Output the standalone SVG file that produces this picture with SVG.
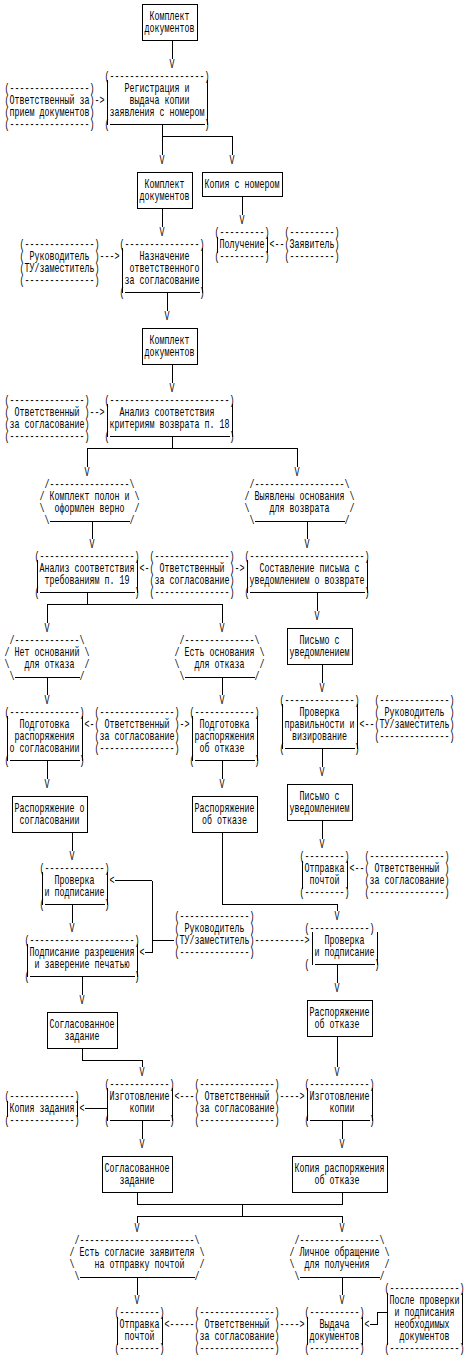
<svg xmlns="http://www.w3.org/2000/svg" width="469" height="1358" viewBox="0 0 469 1358">
<style>
text{font-family:"Liberation Mono","DejaVu Sans Mono",monospace;font-size:12px;fill:#000}
.m{text-anchor:middle}
.ln{fill:none;stroke:#000;stroke-width:1;shape-rendering:crispEdges}
.b{fill:#fff;stroke:#000;stroke-width:1;shape-rendering:crispEdges}
</style>
<rect width="469" height="1358" fill="#fff"/>
<g id="connectors">
<path class="ln" d="M172 40.5V58.5M162 124.5V154.5M162 136.5H232V154.5M162 208.5V226.5M242 196.5V214.5M167 292.5V310.5M172 364.5V382.5M172 436.5V448.5M87 466.5V448.5H297V466.5M92 521.5V538.5M307 521.5V538.5M87 592.5V604.5M47 622.5V604.5H222V622.5M317 592.5V610.5M322 664.5V682.5M47 677.5V694.5M222 677.5V694.5M322 748.5V766.5M47 760.5V778.5M222 760.5V778.5M322 820.5V838.5M72 832.5V850.5M222 832.5V904.5H337V910.5M72 904.5V922.5M174 940.5H152M152 880.5V952.5M114.5 880.5H152M144.5 952.5H152M337 964.5V982.5M82 976.5V994.5M337 1036.5V1066.5M82 1048.5V1060.5H142V1066.5M84.5 1108.5H107M142 1120.5V1138.5M342 1120.5V1138.5M137 1192.5V1204.5M342 1192.5V1204.5M137 1204.5H342M242 1204.5V1216.5M137 1222.5V1216.5H342V1222.5M137 1277.5V1294.5M342 1277.5V1294.5M369.5 1324.5H377V1312.5H387"/>
<g transform="scale(0.694444 1)">
<text class="m" x="247.68" y="68.5">V</text>
<text class="m" x="233.28" y="164.5">V</text>
<text class="m" x="334.08" y="164.5">V</text>
<text class="m" x="348.48" y="224.5">V</text>
<text class="m" x="233.28" y="236.5">V</text>
<text class="m" x="240.48" y="320.5">V</text>
<text class="m" x="247.68" y="392.5">V</text>
<text class="m" x="125.28" y="476.5">V</text>
<text class="m" x="427.68" y="476.5">V</text>
<text class="m" x="132.48" y="548.5">V</text>
<text class="m" x="442.08" y="548.5">V</text>
<text class="m" x="456.48" y="620.5">V</text>
<text class="m" x="67.68" y="632.5">V</text>
<text class="m" x="319.68" y="632.5">V</text>
<text class="m" x="463.68" y="692.5">V</text>
<text class="m" x="67.68" y="704.5">V</text>
<text class="m" x="319.68" y="704.5">V</text>
<text class="m" x="463.68" y="776.5">V</text>
<text class="m" x="67.68" y="788.5">V</text>
<text class="m" x="319.68" y="788.5">V</text>
<text class="m" x="463.68" y="848.5">V</text>
<text class="m" x="103.68" y="860.5">V</text>
<text class="m" x="485.28" y="920.5">V</text>
<text class="m" x="103.68" y="932.5">V</text>
<text class="m" x="485.28" y="992.5">V</text>
<text class="m" x="118.08" y="1004.5">V</text>
<text class="m" x="485.28" y="1076.5">V</text>
<text class="m" x="204.48" y="1076.5">V</text>
<text class="m" x="204.48" y="1148.5">V</text>
<text class="m" x="492.48" y="1148.5">V</text>
<text class="m" x="197.28" y="1232.5">V</text>
<text class="m" x="492.48" y="1232.5">V</text>
<text class="m" x="197.28" y="1304.5">V</text>
<text class="m" x="492.48" y="1304.5">V</text>
<text x="136.08" y="104.5">-&gt;</text>
<text x="388.08" y="248.5">&lt;--</text>
<text x="143.28" y="260.5">---&gt;</text>
<text x="128.88" y="416.5">--&gt;</text>
<text x="200.88" y="572.5">&lt;-</text>
<text x="337.68" y="572.5">-&gt;</text>
<text x="517.68" y="728.5">&lt;--</text>
<text x="121.68" y="728.5">&lt;-</text>
<text x="258.48" y="728.5">-&gt;</text>
<text x="503.28" y="872.5">&lt;--</text>
<text x="157.68" y="884.5">&lt;</text>
<text x="200.88" y="956.5">&lt;</text>
<text x="366.48" y="944.5">----------&gt;</text>
<text x="114.48" y="1112.5">&lt;</text>
<text x="251.28" y="1100.5">&lt;---</text>
<text x="402.48" y="1100.5">----&gt;</text>
<text x="236.88" y="1328.5">&lt;-----</text>
<text x="402.48" y="1328.5">----&gt;</text>
<text x="524.88" y="1328.5">&lt;</text>
</g>
</g>
<g id="n1">
<rect class="b" x="142" y="4.5" width="55" height="36"/>
<g transform="scale(0.694444 1)">
<text class="m" x="244.08" y="20.5">Комплект</text>
<text class="m" x="244.08" y="32.5">документов</text>
</g>
</g>
<g id="n2">
<path class="ln" d="M107 79.5V124.5M207 79.5V124.5M109.5 124.5H204.5"/>
<g transform="scale(0.694444 1)">
<text x="150.48" y="80.5">(-------------------)</text>
<text class="m" x="226.08" y="92.5">Регистрация и</text>
<text class="m" x="229.68" y="104.5">выдача копии</text>
<text class="m" x="226.08" y="116.5">заявления с номером</text>
<text x="150.48" y="128.5">(</text>
<text x="294.48" y="128.5">)</text>
</g>
</g>
<g id="n2a">
<g transform="scale(0.694444 1)">
<text x="6.48" y="92.5">(----------------)</text>
<text x="6.48" y="104.5">(Ответственный за)</text>
<text x="6.48" y="116.5">(прием документов)</text>
<text x="6.48" y="128.5">(----------------)</text>
</g>
</g>
<g id="n3">
<rect class="b" x="137" y="172.5" width="55" height="36"/>
<g transform="scale(0.694444 1)">
<text class="m" x="236.88" y="188.5">Комплект</text>
<text class="m" x="236.88" y="200.5">документов</text>
</g>
</g>
<g id="n4">
<rect class="b" x="202" y="172.5" width="80" height="24"/>
<g transform="scale(0.694444 1)">
<text class="m" x="348.48" y="188.5">Копия с номером</text>
</g>
</g>
<g id="n5">
<path class="ln" d="M217 236.5V252.5M267 236.5V252.5"/>
<g transform="scale(0.694444 1)">
<text x="308.88" y="236.5">(---------)</text>
<text class="m" x="348.48" y="248.5">Получение</text>
<text x="308.88" y="260.5">(---------)</text>
</g>
</g>
<g id="n6">
<g transform="scale(0.694444 1)">
<text x="409.68" y="236.5">(---------)</text>
<text x="409.68" y="248.5">(Заявитель)</text>
<text x="409.68" y="260.5">(---------)</text>
</g>
</g>
<g id="n7">
<g transform="scale(0.694444 1)">
<text x="28.08" y="248.5">(--------------)</text>
<text x="28.08" y="260.5">( Руководитель )</text>
<text x="28.08" y="272.5">(ТУ/заместитель)</text>
<text x="28.08" y="284.5">(--------------)</text>
</g>
</g>
<g id="n8">
<path class="ln" d="M122 247.5V292.5M202 247.5V292.5M124.5 292.5H199.5"/>
<g transform="scale(0.694444 1)">
<text x="172.08" y="248.5">(---------------)</text>
<text class="m" x="236.88" y="260.5">Назначение</text>
<text class="m" x="236.88" y="272.5">ответственного</text>
<text class="m" x="233.28" y="284.5">за согласование</text>
<text x="172.08" y="296.5">(</text>
<text x="287.28" y="296.5">)</text>
</g>
</g>
<g id="n9">
<rect class="b" x="142" y="328.5" width="55" height="36"/>
<g transform="scale(0.694444 1)">
<text class="m" x="244.08" y="344.5">Комплект</text>
<text class="m" x="244.08" y="356.5">документов</text>
</g>
</g>
<g id="n10">
<path class="ln" d="M107 403.5V436.5M232 403.5V436.5M109.5 436.5H229.5"/>
<g transform="scale(0.694444 1)">
<text x="150.48" y="404.5">(------------------------)</text>
<text class="m" x="240.48" y="416.5">Анализ соответствия</text>
<text class="m" x="244.08" y="428.5">критериям возврата п. 18</text>
<text x="150.48" y="440.5">(</text>
<text x="330.48" y="440.5">)</text>
</g>
</g>
<g id="n11">
<g transform="scale(0.694444 1)">
<text x="6.48" y="404.5">(---------------)</text>
<text x="6.48" y="416.5">( Ответственный )</text>
<text x="6.48" y="428.5">(за согласование)</text>
<text x="6.48" y="440.5">(---------------)</text>
</g>
</g>
<g id="n12">
<path class="ln" d="M49.5 521.5H129.5"/>
<g transform="scale(0.694444 1)">
<text x="64.08" y="488.5">/----------------\</text>
<text x="56.88" y="500.5">/</text>
<text class="m" x="128.88" y="500.5">Комплект полон и</text>
<text x="193.68" y="500.5">\</text>
<text x="56.88" y="512.5">\</text>
<text class="m" x="128.88" y="512.5">оформлен верно</text>
<text x="193.68" y="512.5">/</text>
<text x="64.08" y="524.5">\</text>
<text x="186.48" y="524.5">/</text>
</g>
</g>
<g id="n13">
<path class="ln" d="M254.5 521.5H344.5"/>
<g transform="scale(0.694444 1)">
<text x="359.28" y="488.5">/------------------\</text>
<text x="352.08" y="500.5">/</text>
<text class="m" x="431.28" y="500.5">Выявлены основания</text>
<text x="503.28" y="500.5">\</text>
<text x="352.08" y="512.5">\</text>
<text class="m" x="431.28" y="512.5">для возврата</text>
<text x="503.28" y="512.5">/</text>
<text x="359.28" y="524.5">\</text>
<text x="496.08" y="524.5">/</text>
</g>
</g>
<g id="n14">
<path class="ln" d="M37 559.5V592.5M137 559.5V592.5M39.5 592.5H134.5"/>
<g transform="scale(0.694444 1)">
<text x="49.68" y="560.5">(-------------------)</text>
<text class="m" x="125.28" y="572.5">Анализ соответствия</text>
<text class="m" x="125.28" y="584.5">требованиям п. 19</text>
<text x="49.68" y="596.5">(</text>
<text x="193.68" y="596.5">)</text>
</g>
</g>
<g id="n15">
<g transform="scale(0.694444 1)">
<text x="215.28" y="560.5">(---------------)</text>
<text x="215.28" y="572.5">( Ответственный )</text>
<text x="215.28" y="584.5">(за согласование)</text>
<text x="215.28" y="596.5">(---------------)</text>
</g>
</g>
<g id="n16">
<path class="ln" d="M247 559.5V592.5M367 559.5V592.5M249.5 592.5H364.5"/>
<g transform="scale(0.694444 1)">
<text x="352.08" y="560.5">(-----------------------)</text>
<text class="m" x="445.68" y="572.5">Составление письма с</text>
<text class="m" x="442.08" y="584.5">уведомлением о возврате</text>
<text x="352.08" y="596.5">(</text>
<text x="524.88" y="596.5">)</text>
</g>
</g>
<g id="n17">
<rect class="b" x="287" y="628.5" width="65" height="36"/>
<g transform="scale(0.694444 1)">
<text class="m" x="460.08" y="644.5">Письмо с</text>
<text class="m" x="460.08" y="656.5">уведомлением</text>
</g>
</g>
<g id="n18">
<path class="ln" d="M14.5 677.5H79.5"/>
<g transform="scale(0.694444 1)">
<text x="13.68" y="644.5">/-------------\</text>
<text x="6.48" y="656.5">/</text>
<text class="m" x="67.68" y="656.5">Нет оснований</text>
<text x="121.68" y="656.5">\</text>
<text x="6.48" y="668.5">\</text>
<text class="m" x="71.28" y="668.5">для отказа</text>
<text x="121.68" y="668.5">/</text>
<text x="13.68" y="680.5">\</text>
<text x="114.48" y="680.5">/</text>
</g>
</g>
<g id="n19">
<path class="ln" d="M184.5 677.5H254.5"/>
<g transform="scale(0.694444 1)">
<text x="258.48" y="644.5">/--------------\</text>
<text x="251.28" y="656.5">/</text>
<text class="m" x="316.08" y="656.5">Есть основания</text>
<text x="373.68" y="656.5">\</text>
<text x="251.28" y="668.5">\</text>
<text class="m" x="316.08" y="668.5">для отказа</text>
<text x="373.68" y="668.5">/</text>
<text x="258.48" y="680.5">\</text>
<text x="366.48" y="680.5">/</text>
</g>
</g>
<g id="n20">
<path class="ln" d="M7 715.5V760.5M82 715.5V760.5M9.5 760.5H79.5"/>
<g transform="scale(0.694444 1)">
<text x="6.48" y="716.5">(--------------)</text>
<text class="m" x="64.08" y="728.5">Подготовка</text>
<text class="m" x="64.08" y="740.5">распоряжения</text>
<text class="m" x="64.08" y="752.5">о согласовании</text>
<text x="6.48" y="764.5">(</text>
<text x="114.48" y="764.5">)</text>
</g>
</g>
<g id="n21">
<g transform="scale(0.694444 1)">
<text x="136.08" y="716.5">(---------------)</text>
<text x="136.08" y="728.5">( Ответственный )</text>
<text x="136.08" y="740.5">(за согласование)</text>
<text x="136.08" y="752.5">(---------------)</text>
</g>
</g>
<g id="n22">
<path class="ln" d="M192 715.5V760.5M257 715.5V760.5M194.5 760.5H254.5"/>
<g transform="scale(0.694444 1)">
<text x="272.88" y="716.5">(------------)</text>
<text class="m" x="323.28" y="728.5">Подготовка</text>
<text class="m" x="323.28" y="740.5">распоряжения</text>
<text class="m" x="319.68" y="752.5">об отказе</text>
<text x="272.88" y="764.5">(</text>
<text x="366.48" y="764.5">)</text>
</g>
</g>
<g id="n23">
<path class="ln" d="M282 703.5V748.5M357 703.5V748.5M284.5 748.5H354.5"/>
<g transform="scale(0.694444 1)">
<text x="402.48" y="704.5">(--------------)</text>
<text class="m" x="460.08" y="716.5">Проверка</text>
<text class="m" x="460.08" y="728.5">правильности и</text>
<text class="m" x="460.08" y="740.5">визирование</text>
<text x="402.48" y="752.5">(</text>
<text x="510.48" y="752.5">)</text>
</g>
</g>
<g id="n24">
<g transform="scale(0.694444 1)">
<text x="539.28" y="704.5">(--------------)</text>
<text x="539.28" y="716.5">( Руководитель )</text>
<text x="539.28" y="728.5">(ТУ/заместитель)</text>
<text x="539.28" y="740.5">(--------------)</text>
</g>
</g>
<g id="n25">
<rect class="b" x="12" y="796.5" width="75" height="36"/>
<g transform="scale(0.694444 1)">
<text class="m" x="71.28" y="812.5">Распоряжение о</text>
<text class="m" x="71.28" y="824.5">согласовании</text>
</g>
</g>
<g id="n26">
<rect class="b" x="192" y="796.5" width="65" height="36"/>
<g transform="scale(0.694444 1)">
<text class="m" x="323.28" y="812.5">Распоряжение</text>
<text class="m" x="323.28" y="824.5">об отказе</text>
</g>
</g>
<g id="n27">
<rect class="b" x="287" y="784.5" width="65" height="36"/>
<g transform="scale(0.694444 1)">
<text class="m" x="460.08" y="800.5">Письмо с</text>
<text class="m" x="460.08" y="812.5">уведомлением</text>
</g>
</g>
<g id="n28">
<path class="ln" d="M302 860.5V888.5M347 860.5V888.5"/>
<g transform="scale(0.694444 1)">
<text x="431.28" y="860.5">(--------)</text>
<text class="m" x="467.28" y="872.5">Отправка</text>
<text class="m" x="467.28" y="884.5">почтой</text>
<text x="431.28" y="896.5">(--------)</text>
</g>
</g>
<g id="n29">
<g transform="scale(0.694444 1)">
<text x="524.88" y="860.5">(---------------)</text>
<text x="524.88" y="872.5">( Ответственный )</text>
<text x="524.88" y="884.5">(за согласование)</text>
<text x="524.88" y="896.5">(---------------)</text>
</g>
</g>
<g id="n30">
<path class="ln" d="M42 871.5V904.5M107 871.5V904.5M44.5 904.5H104.5"/>
<g transform="scale(0.694444 1)">
<text x="56.88" y="872.5">(------------)</text>
<text class="m" x="107.28" y="884.5">Проверка</text>
<text class="m" x="107.28" y="896.5">и подписание</text>
<text x="56.88" y="908.5">(</text>
<text x="150.48" y="908.5">)</text>
</g>
</g>
<g id="n31">
<path class="ln" d="M27 943.5V976.5M137 943.5V976.5M29.5 976.5H134.5"/>
<g transform="scale(0.694444 1)">
<text x="35.28" y="944.5">(---------------------)</text>
<text class="m" x="118.08" y="956.5">Подписание разрешения</text>
<text class="m" x="118.08" y="968.5">и заверение печатью</text>
<text x="35.28" y="980.5">(</text>
<text x="193.68" y="980.5">)</text>
</g>
</g>
<g id="n32">
<g transform="scale(0.694444 1)">
<text x="251.28" y="920.5">(--------------)</text>
<text x="251.28" y="932.5">( Руководитель )</text>
<text x="251.28" y="944.5">(ТУ/заместитель)</text>
<text x="251.28" y="956.5">(--------------)</text>
</g>
</g>
<g id="n33">
<path class="ln" d="M312 931.5V964.5M377 931.5V964.5M314.5 964.5H374.5"/>
<g transform="scale(0.694444 1)">
<text x="438.48" y="932.5">(------------)</text>
<text class="m" x="496.08" y="944.5">Проверка</text>
<text class="m" x="496.08" y="956.5">и подписание</text>
<text x="438.48" y="968.5">(</text>
<text x="539.28" y="968.5">)</text>
</g>
</g>
<g id="n34">
<rect class="b" x="307" y="1000.5" width="65" height="36"/>
<g transform="scale(0.694444 1)">
<text class="m" x="488.88" y="1016.5">Распоряжение</text>
<text class="m" x="485.28" y="1028.5">об отказе</text>
</g>
</g>
<g id="n35">
<rect class="b" x="47" y="1012.5" width="70" height="36"/>
<g transform="scale(0.694444 1)">
<text class="m" x="118.08" y="1028.5">Согласованное</text>
<text class="m" x="118.08" y="1040.5">задание</text>
</g>
</g>
<g id="n36">
<path class="ln" d="M7 1100.5V1116.5M77 1100.5V1116.5"/>
<g transform="scale(0.694444 1)">
<text x="6.48" y="1100.5">(-------------)</text>
<text class="m" x="60.48" y="1112.5">Копия задания</text>
<text x="6.48" y="1124.5">(-------------)</text>
</g>
</g>
<g id="n37">
<path class="ln" d="M107 1087.5V1120.5M172 1087.5V1120.5M109.5 1120.5H169.5"/>
<g transform="scale(0.694444 1)">
<text x="150.48" y="1088.5">(------------)</text>
<text class="m" x="200.88" y="1100.5">Изготовление</text>
<text class="m" x="204.48" y="1112.5">копии</text>
<text x="150.48" y="1124.5">(</text>
<text x="244.08" y="1124.5">)</text>
</g>
</g>
<g id="n38">
<g transform="scale(0.694444 1)">
<text x="280.08" y="1088.5">(---------------)</text>
<text x="280.08" y="1100.5">( Ответственный )</text>
<text x="280.08" y="1112.5">(за согласование)</text>
<text x="280.08" y="1124.5">(---------------)</text>
</g>
</g>
<g id="n39">
<path class="ln" d="M307 1087.5V1120.5M372 1087.5V1120.5M309.5 1120.5H369.5"/>
<g transform="scale(0.694444 1)">
<text x="438.48" y="1088.5">(------------)</text>
<text class="m" x="488.88" y="1100.5">Изготовление</text>
<text class="m" x="492.48" y="1112.5">копии</text>
<text x="438.48" y="1124.5">(</text>
<text x="532.08" y="1124.5">)</text>
</g>
</g>
<g id="n40">
<rect class="b" x="102" y="1156.5" width="70" height="36"/>
<g transform="scale(0.694444 1)">
<text class="m" x="197.28" y="1172.5">Согласованное</text>
<text class="m" x="197.28" y="1184.5">задание</text>
</g>
</g>
<g id="n41">
<rect class="b" x="292" y="1156.5" width="95" height="36"/>
<g transform="scale(0.694444 1)">
<text class="m" x="488.88" y="1172.5">Копия распоряжения</text>
<text class="m" x="485.28" y="1184.5">об отказе</text>
</g>
</g>
<g id="n42">
<path class="ln" d="M79.5 1277.5H194.5"/>
<g transform="scale(0.694444 1)">
<text x="107.28" y="1244.5">/-----------------------\</text>
<text x="100.08" y="1256.5">/</text>
<text class="m" x="197.28" y="1256.5">Есть согласие заявителя</text>
<text x="287.28" y="1256.5">\</text>
<text x="100.08" y="1268.5">\</text>
<text class="m" x="200.88" y="1268.5">на отправку почтой</text>
<text x="287.28" y="1268.5">/</text>
<text x="107.28" y="1280.5">\</text>
<text x="280.08" y="1280.5">/</text>
</g>
</g>
<g id="n43">
<path class="ln" d="M299.5 1277.5H379.5"/>
<g transform="scale(0.694444 1)">
<text x="424.08" y="1244.5">/----------------\</text>
<text x="416.88" y="1256.5">/</text>
<text class="m" x="488.88" y="1256.5">Личное обращение</text>
<text x="553.68" y="1256.5">\</text>
<text x="416.88" y="1268.5">\</text>
<text class="m" x="485.28" y="1268.5">для получения</text>
<text x="553.68" y="1268.5">/</text>
<text x="424.08" y="1280.5">\</text>
<text x="546.48" y="1280.5">/</text>
</g>
</g>
<g id="n44">
<path class="ln" d="M117 1316.5V1344.5M162 1316.5V1344.5"/>
<g transform="scale(0.694444 1)">
<text x="164.88" y="1316.5">(--------)</text>
<text class="m" x="200.88" y="1328.5">Отправка</text>
<text class="m" x="200.88" y="1340.5">почтой</text>
<text x="164.88" y="1352.5">(--------)</text>
</g>
</g>
<g id="n45">
<g transform="scale(0.694444 1)">
<text x="280.08" y="1316.5">(---------------)</text>
<text x="280.08" y="1328.5">( Ответственный )</text>
<text x="280.08" y="1340.5">(за согласование)</text>
<text x="280.08" y="1352.5">(---------------)</text>
</g>
</g>
<g id="n46">
<path class="ln" d="M307 1316.5V1344.5M362 1316.5V1344.5"/>
<g transform="scale(0.694444 1)">
<text x="438.48" y="1316.5">(----------)</text>
<text class="m" x="481.68" y="1328.5">Выдача</text>
<text class="m" x="481.68" y="1340.5">документов</text>
<text x="438.48" y="1352.5">(----------)</text>
</g>
</g>
<g id="n47">
<path class="ln" d="M387 1292.5V1344.5M462 1292.5V1344.5"/>
<g transform="scale(0.694444 1)">
<text x="553.68" y="1292.5">(--------------)</text>
<text class="m" x="611.28" y="1304.5">После проверки</text>
<text class="m" x="611.28" y="1316.5">и подписания</text>
<text class="m" x="607.68" y="1328.5">необходимых</text>
<text class="m" x="611.28" y="1340.5">документов</text>
<text x="553.68" y="1352.5">(--------------)</text>
</g>
</g>
</svg>
